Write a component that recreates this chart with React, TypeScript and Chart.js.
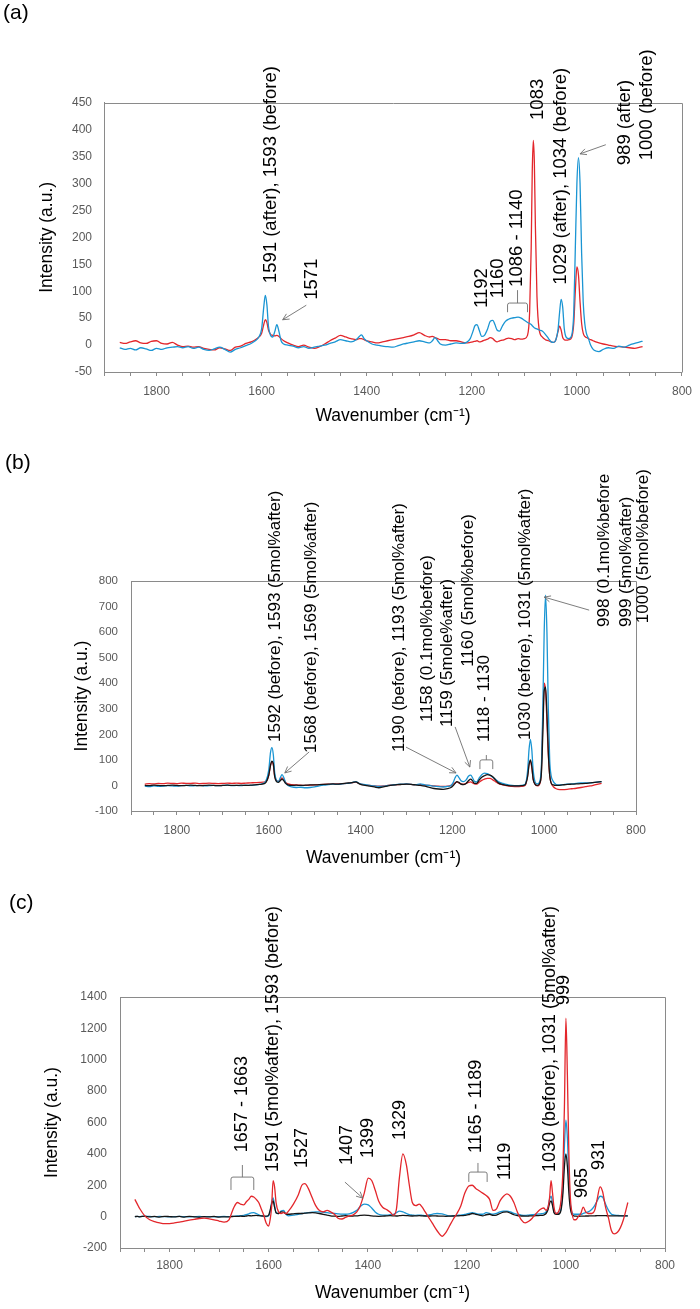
import React, { useEffect, useRef } from "react";
import { Chart, registerables } from "chart.js";
Chart.register(...registerables);

const FONT = "'Liberation Sans', Arial, Helvetica, sans-serif";
const RED = "#e3262b";
const BLUE = "#1a95d3";
const BLACK = "#151515";
const AXIS = "#8a8a8a";
const TICK_TEXT = "#595959";
const NOTE_LINE = "#6e6e6e";

// ---------------- Panel (a) ----------------
const aWave = [
  1870, 1860, 1850, 1840, 1830, 1820, 1810, 1800, 1790, 1780,
  1770, 1760, 1750, 1740, 1730, 1720, 1710, 1700, 1690, 1680,
  1670, 1660, 1650, 1640, 1630, 1620, 1612, 1606, 1600, 1596,
  1593, 1590, 1587, 1583, 1579, 1575, 1571, 1567, 1563, 1558,
  1550, 1540, 1530, 1520, 1510, 1500, 1490, 1480, 1470, 1460,
  1450, 1440, 1430, 1420, 1414, 1410, 1405, 1400, 1390, 1380,
  1370, 1360, 1350, 1340, 1330, 1320, 1310, 1300, 1290, 1280,
  1275, 1270, 1265, 1260, 1250, 1240, 1230, 1220, 1210, 1203,
  1198, 1194, 1190, 1186, 1181, 1176, 1170, 1165, 1160, 1156,
  1152, 1147, 1142, 1136, 1130, 1124, 1118, 1112, 1106, 1100,
  1094, 1090, 1087, 1085, 1083, 1081, 1079, 1076, 1072, 1066,
  1060, 1054, 1049, 1044, 1040, 1036, 1033, 1030, 1027, 1024,
  1020, 1015, 1010, 1006, 1003, 1000, 997, 994, 991, 988,
  985, 982, 978, 974, 969, 964, 958, 950, 940, 930,
  920, 910, 900, 890, 880, 875,
];
const aBefore = [
  5, 3, 6, 8, 4, 3, 7, 8, 3, 2,
  5, 0, -3, -2, -4, -3, -6, -8, -9, -5,
  -7, -10, -4, -2, 3, 6, 10, 14, 22, 38,
  47, 42, 28, 20, 18, 17, 18, 16, 12, 8,
  4, 0, -3, 0, -4, -6, -3, 2, 8, 13,
  18, 15, 12, 10, 12, 12, 10, 8, 6, 4,
  6, 8, 10, 12, 14, 16, 19, 23, 18, 15,
  16, 14, 12, 10, 10, 8, 8, 6, 4, 5,
  6, 7, 8, 6, 7, 9, 11, 14, 12, 8,
  6, 8, 9, 11, 13, 12, 10, 12, 11, 12,
  18, 60, 180, 320, 380, 340, 220, 90, 30, 15,
  10, 8, 6, 5, 10, 25, 35, 28, 14, 10,
  9, 10, 14, 40, 100, 145, 130, 80, 40, 22,
  16, 14, 12, 10, 8, 6, 4, 2, 0, -2,
  -3, -4, -5, -6, -4, -3,
];
const aAfter = [
  -5, -8, -6, -9, -5, -7, -10, -6, -8, -5,
  -4, -3, -5, -3, -6, -4, -8, -10, -7, -4,
  -8, -13, -8, -5, -1, 3, 8, 14, 30, 70,
  92, 75, 35, 18, 15, 25, 38, 25, 8, 2,
  0, -2, -5, -3, -6, -4, -2, 0, 3, 6,
  10, 8, 6, 10, 16, 19, 12, 8, 2, 0,
  -2, -3, -4, -1, 2, 4, 6, 8, 6, 4,
  8, 14, 8, 2, 0, 2, 4, 3, 5, 12,
  25, 36, 38, 28, 16, 18, 30, 44, 46, 38,
  28, 26, 35, 44, 48, 50, 51, 52, 50, 46,
  42, 40, 38, 36, 34, 32, 31, 30, 28, 26,
  20, 12, 6, 5, 10, 28, 60, 85, 70, 30,
  14, 12, 18, 60, 180, 300, 348, 300, 170, 80,
  40, 22, 12, 0, -8, -11, -12, -8, -5, -6,
  -2, -4, 0, 3, 6, 7,
];
const aNotes: [string, number, number][] = [
  ["1591 (after), 1593 (before)", 1582, 115],
  ["1571", 1504, 84],
  ["1192", 1181, 69],
  ["1160", 1151, 87],
  ["1086 - 1140", 1115, 108],
  ["1083", 1074, 418],
  ["1029 (after), 1034 (before)", 1030, 112],
  ["989 (after)", 909, 334],
  ["1000 (before)", 866, 343],
];
const aArrows: [number, number, number, number][] = [
  [1515, 74, 1560, 47],
  [945, 372, 994, 355],
];
const aBrackets: [number, number, number, number, number][] = [
  [1132, 1094, 78, 61, 102],
];

// ---------------- Panel (b) ----------------
const bWave = [
  1870, 1860, 1850, 1840, 1830, 1820, 1810, 1800, 1790, 1780,
  1770, 1760, 1750, 1740, 1730, 1720, 1710, 1700, 1690, 1680,
  1670, 1660, 1650, 1640, 1630, 1620, 1612, 1606, 1600, 1596,
  1593, 1590, 1587, 1583, 1579, 1575, 1571, 1567, 1563, 1558,
  1550, 1540, 1530, 1520, 1510, 1500, 1490, 1480, 1470, 1460,
  1450, 1440, 1430, 1420, 1414, 1410, 1405, 1400, 1390, 1380,
  1370, 1360, 1350, 1340, 1330, 1320, 1310, 1300, 1290, 1280,
  1270, 1260, 1250, 1240, 1230, 1220, 1210, 1203, 1198, 1194,
  1190, 1186, 1181, 1176, 1170, 1165, 1160, 1156, 1152, 1147,
  1142, 1136, 1130, 1124, 1118, 1112, 1106, 1100, 1090, 1080,
  1070, 1060, 1050, 1044, 1040, 1036, 1033, 1030, 1027, 1024,
  1020, 1015, 1010, 1006, 1003, 1000, 997, 994, 991, 988,
  985, 980, 975, 970, 960, 950, 940, 930, 920, 910,
  900, 890, 880, 875,
];
const bAfter5 = [
  -3, -5, -2, -4, -3, -1, -2, -3, -1, 0,
  -2, -1, 0, -2, -1, 0, -1, 0, 1, -1,
  0, -1, 1, 0, 2, 4, 8, 18, 60, 130,
  148, 120, 50, 20, 15, 30, 42, 30, 10, 0,
  -6, -8, -7, -9, -8, -6, -2, 1, 3, 5,
  4, 6, 8, 10, 14, 15, 10, 6, 3, 0,
  -2, -4, -3, 0, 2, 4, 5, 6, 4, 3,
  6, 2, 0, -3, -5, -6, -4, 0, 12, 30,
  40, 32, 18, 15, 22, 36, 40, 30, 16, 14,
  28, 42, 48, 46, 40, 32, 24, 15, 8, 3,
  0, -1, 0, 2, 10, 60, 140, 180, 140, 60,
  15, 6, 15, 80, 300, 600, 745, 600, 300, 100,
  40, 15, 5, 2, 3, 5, 6, 8, 10, 10,
  10, 12, 14, 15,
];
const bBefore5 = [
  5, 7, 6, 8, 7, 9, 8, 7, 9, 8,
  8, 9, 7, 8, 9, 8, 7, 8, 9, 8,
  9, 8, 9, 10, 11, 12, 13, 16, 40, 80,
  92, 80, 35, 18, 16, 22, 30, 22, 12, 6,
  3, 2, 1, 0, 1, 2, 3, 4, 5, 6,
  6, 7, 8, 10, 12, 13, 9, 5, 2, 0,
  -2, -3, -2, 0, 2, 3, 4, 5, 4, 3,
  3, 1, 0, -2, -3, -4, -3, 0, 5, 10,
  14, 10, 6, 5, 8, 12, 14, 10, 6, 5,
  12, 20, 25, 28, 28, 22, 15, 8, 2, -2,
  -4, -5, -4, -2, 5, 40, 85, 95, 70, 25,
  5, -2, 5, 60, 250, 400, 370, 250, 120, 40,
  10, -5, -12, -15, -16, -15, -13, -11, -8, -5,
  -2, 2, 6, 8,
];
const bBefore01 = [
  0, -1, 1, 0, -1, 0, 1, 0, -1, 0,
  1, 0, -1, 0, 1, 0, -1, 0, 1, 0,
  0, 1, 0, 1, 2, 4, 6, 12, 40, 80,
  95, 85, 35, 15, 12, 18, 25, 18, 8, 2,
  0, 1, 0, 1, 2, 2, 3, 4, 5, 6,
  5, 7, 9, 11, 13, 14, 9, 4, 0, -3,
  -6, -9, -6, -2, 1, 3, 4, 5, 4, 2,
  0, -3, -8, -12, -14, -15, -12, -8, 0, 8,
  15, 12, 5, 3, 8, 18, 25, 18, 8, 8,
  20, 32, 38, 42, 40, 34, 22, 10, 3, 0,
  -2, -2, -1, 0, 8, 35, 80, 100, 75, 25,
  5, 0, 8, 50, 200, 370, 385, 280, 130, 40,
  10, 2, 0, 0, 2, 4, 5, 6, 7, 8,
  10, 12, 14, 15,
];
const bNotes: [string, number, number][] = [
  ["1592 (before), 1593 (5mol%after)", 1586, 170],
  ["1568 (before), 1569 (5mol%after)", 1508, 127],
  ["1190 (before), 1193 (5mol%after)", 1316, 131],
  ["1158 (0.1mol%before)", 1255, 248],
  ["1159 (5mole%after)", 1212, 229],
  ["1160 (5mol%before)", 1166, 464],
  ["1118 - 1130", 1131, 170],
  ["1030 (before), 1031 (5mol%after)", 1042, 178],
  ["998 (0.1mol%before", 868, 620],
  ["999 (5mol%after)", 822, 620],
  ["1000 (5mol%before)", 783, 635],
];
const bArrows: [number, number, number, number][] = [
  [1512, 131, 1565, 49],
  [1301, 150, 1192, 49],
  [1194, 229, 1162, 72],
  [902, 686, 1000, 737],
];
const bBrackets: [number, number, number, number, number][] = [
  [1140, 1112, 100, 64, 119],
];

// ---------------- Panel (c) ----------------
const cWave = [
  1870, 1865, 1860, 1850, 1840, 1830, 1820, 1810, 1800, 1790,
  1780, 1770, 1760, 1750, 1740, 1730, 1720, 1710, 1700, 1690,
  1680, 1675, 1670, 1663, 1657, 1650, 1645, 1640, 1635, 1630,
  1625, 1620, 1615, 1610, 1605, 1600, 1597, 1594, 1591, 1588,
  1585, 1580, 1575, 1570, 1565, 1560, 1550, 1540, 1533, 1527,
  1520, 1512, 1505, 1498, 1490, 1482, 1475, 1467, 1460, 1452,
  1445, 1437, 1430, 1422, 1415, 1407, 1399, 1392, 1385, 1378,
  1370, 1362, 1355, 1348, 1342, 1336, 1329, 1322, 1316, 1310,
  1303, 1296, 1290, 1284, 1278, 1270, 1260, 1250, 1242, 1235,
  1228, 1220, 1212, 1204, 1196, 1189, 1182, 1175, 1168, 1161,
  1154, 1147, 1140, 1133, 1126, 1119, 1112, 1105, 1098, 1090,
  1082, 1075, 1068, 1060, 1052, 1045, 1040, 1036, 1033, 1030,
  1027, 1024, 1020, 1015, 1010, 1006, 1003, 1000, 997, 994,
  991, 988, 984, 980, 975, 970, 965, 960, 955, 948,
  942, 937, 931, 926, 920, 914, 908, 902, 896, 890,
  884, 879, 875,
];
const cRed = [
  110, 80, 50, 5, -20, -32, -40, -45, -44, -40,
  -35, -28, -22, -17, -12, -10, -14, -20, -28, -35,
  -20, 20, 60, 90, 80, 75, 95, 110, 130, 125,
  110, 90, 50, 10, -40, -60, -20, 60, 230, 190,
  90, 30, 20, 25, 20, 35, 80, 140, 200, 210,
  180, 120, 70, 40, 30, 40, 30, 15, -10, -15,
  -5, 5, 10, 30, 70, 150, 245, 230, 170, 100,
  60, 45, 30, 10, 50, 250, 400, 330, 200, 90,
  70, 80, 60, 30, 0, -40, -90, -125, -100, -60,
  -20, 20, 70, 150, 195, 200, 180, 165, 150, 135,
  110, 40, 50, 100, 130, 145, 130, 90, 30, -20,
  -40, -30, -10, 20, 45, 55, 40, 60, 120, 230,
  150, 60, 20, 30, 100, 300, 700, 1265, 900, 400,
  120, 30, -20, -20, 0, 20, 60, 30, 20, 20,
  40, 110, 190, 160, 60, -10, -90, -110, -100, -70,
  -20, 40, 90,
];
const cBlue = [
  0, 1, 0, 2, 1, 0, 1, 0, -1, 0,
  1, 0, -1, 0, 1, 0, 0, -1, 0, 1,
  0, 1, 2, 4, 6, 8, 12, 18, 24, 25,
  20, 12, 5, 2, 0, 5, 30, 90, 120, 70,
  25, 20, 35, 40, 15, 5, 10, 15, 20, 22,
  25, 28, 30, 30, 28, 25, 22, 20, 18, 16,
  15, 18, 25, 40, 65, 80, 75, 55, 30, 15,
  10, 10, 12, 15, 25, 35, 30, 20, 12, 10,
  8, 10, 8, 6, 10, 15, 20, 18, 10, 5,
  5, 8, 10, 15, 20, 25, 20, 15, 15, 25,
  20, 15, 20, 30, 35, 35, 30, 20, 15, 10,
  8, 10, 12, 15, 18, 20, 30, 60, 110, 130,
  90, 30, 20, 20, 50, 200, 450, 615, 500, 250,
  80, 30, 15, 15, 15, 15, 20, 25, 30, 45,
  70, 100, 130, 125, 80, 40, 15, 10, 8, 6,
  5, 5, 5,
];
const cBlack = [
  0, 2, -1, 3, -2, 1, -3, 2, 0, -2,
  1, -3, 2, -1, -4, 0, -2, 1, -3, -1,
  -2, 0, 2, 1, 3, 2, 4, 6, 5, 7,
  8, 6, 5, 4, 3, 10, 40, 80, 100, 60,
  25, 20, 30, 28, 18, 15, 18, 20, 20, 22,
  24, 25, 24, 20, 15, 10, 5, 3, 2, 4,
  6, 3, 4, 5, 8, 10, 8, 5, 3, 2,
  3, 5, 6, 5, 4, 6, 8, 7, 5, 4,
  5, 6, 5, 4, 3, 5, 4, 3, 2, 3,
  4, 5, 6, 8, 12, 20, 15, 10, 5, 12,
  15, 8, 10, 20, 28, 30, 22, 12, 6, 4,
  3, 4, 5, 6, 8, 10, 20, 45, 85, 100,
  70, 25, 15, 15, 40, 150, 320, 400, 320, 150,
  50, 15, 5, 3, 2, 3, 3, 4, 4, 5,
  5, 6, 6, 6, 6, 5, 5, 5, 5, 5,
  5, 5, 5,
];
const cNotes: [string, number, number][] = [
  ["1657 - 1663", 1654, 411],
  ["1591 (5mol%after), 1593 (before)", 1591, 284],
  ["1527", 1533, 310],
  ["1407", 1442, 329],
  ["1399", 1400, 374],
  ["1329", 1335, 488],
  ["1165 - 1189", 1182, 405],
  ["1119", 1123, 233],
  ["1030 (before), 1031 (5mol%after)", 1032, 284],
  ["999", 1004, 1349],
  ["965", 968, 119],
  ["931", 933, 297],
];
const cArrows: [number, number, number, number][] = [[1446, 220, 1410, 118]];
const cBrackets: [number, number, number, number, number][] = [
  [1676, 1630, 252, 170, 329],
  [1196, 1159, 284, 221, 342],
];

const xTickLabels = [1800, 1600, 1400, 1200, 1000, 800];

interface Series { values: number[]; color: string; }
interface PanelSpec {
  top: number; height: number;
  wave: number[]; series: Series[];
  yMin: number; yMax: number; yStep: number;
  pad: { top: number; right: number; bottom: number };
  yAxisW: number; xAxisH: number;
  yTickSize: number; yTickPad: number; yTitlePad: number;
  xTickPad: number; xTitlePad: number;
  notes: [string, number, number][];
  arrows: [number, number, number, number][];
  brackets: [number, number, number, number, number][];
  noteSize: number;
}

function decor(spec: PanelSpec) {
  return {
    id: "decor",
    afterDraw(chart: any) {
      const ctx = chart.ctx;
      const xs = chart.scales.x;
      const ys = chart.scales.y;
      const a = chart.chartArea;
      ctx.save();
      ctx.strokeStyle = AXIS;
      ctx.lineWidth = 1;
      ctx.beginPath();
      ctx.moveTo(Math.round(a.left) + 0.5, Math.round(a.top) + 0.5);
      ctx.lineTo(Math.round(a.right) + 0.5, Math.round(a.top) + 0.5);
      ctx.lineTo(Math.round(a.right) + 0.5, Math.round(a.bottom) + 0.5);
      ctx.stroke();

      ctx.strokeStyle = NOTE_LINE;
      ctx.lineWidth = 0.9;
      for (const [x1, y1, x2, y2] of spec.arrows) {
        const px1 = xs.getPixelForValue(x1), py1 = ys.getPixelForValue(y1);
        const px2 = xs.getPixelForValue(x2), py2 = ys.getPixelForValue(y2);
        ctx.beginPath();
        ctx.moveTo(px1, py1);
        ctx.lineTo(px2, py2);
        const ang = Math.atan2(py2 - py1, px2 - px1);
        const L = 7;
        ctx.moveTo(px2, py2);
        ctx.lineTo(px2 - L * Math.cos(ang - 0.45), py2 - L * Math.sin(ang - 0.45));
        ctx.moveTo(px2, py2);
        ctx.lineTo(px2 - L * Math.cos(ang + 0.45), py2 - L * Math.sin(ang + 0.45));
        ctx.stroke();
      }
      for (const [x1, x2, y, legY, tipY] of spec.brackets) {
        const p1 = xs.getPixelForValue(x1), p2 = xs.getPixelForValue(x2);
        const py = ys.getPixelForValue(y), pl = ys.getPixelForValue(legY), pt = ys.getPixelForValue(tipY);
        const mid = (p1 + p2) / 2;
        ctx.beginPath();
        ctx.moveTo(p1, pl);
        ctx.lineTo(p1, py + 2);
        ctx.quadraticCurveTo(p1, py, p1 + 2, py);
        ctx.lineTo(p2 - 2, py);
        ctx.quadraticCurveTo(p2, py, p2, py + 2);
        ctx.lineTo(p2, pl);
        ctx.moveTo(mid, py);
        ctx.lineTo(mid, pt);
        ctx.stroke();
      }

      ctx.fillStyle = "#000";
      ctx.font = `${spec.noteSize}px ${FONT}`;
      ctx.textAlign = "left";
      ctx.textBaseline = "middle";
      for (const [text, x, y] of spec.notes) {
        const px = xs.getPixelForValue(x), py = ys.getPixelForValue(y);
        ctx.save();
        ctx.translate(px, py);
        ctx.rotate(-Math.PI / 2);
        ctx.fillText(text, 0, 0);
        ctx.restore();
      }
      ctx.restore();
    },
  };
}

function buildConfig(spec: PanelSpec): any {
  return {
    type: "line",
    data: {
      datasets: spec.series.map((s) => ({
        data: spec.wave.map((w, i) => ({ x: w, y: s.values[i] })),
        borderColor: s.color,
        borderWidth: 1.3,
        pointRadius: 0,
        fill: false,
        cubicInterpolationMode: "monotone",
      })),
    },
    options: {
      animation: false,
      responsive: false,
      maintainAspectRatio: false,
      devicePixelRatio: 1,
      layout: { padding: { left: 0, right: spec.pad.right, top: spec.pad.top, bottom: spec.pad.bottom } },
      plugins: { legend: { display: false }, tooltip: { enabled: false } },
      scales: {
        x: {
          type: "linear",
          reverse: true,
          min: 800,
          max: 1900,
          ticks: {
            stepSize: 50,
            autoSkip: false,
            maxRotation: 0,
            padding: spec.xTickPad,
            color: TICK_TEXT,
            font: { family: FONT, size: 12 },
            callback: (v: number) => (xTickLabels.includes(v) ? String(v) : ""),
          },
          grid: { drawOnChartArea: false, drawTicks: true, tickLength: 4, color: AXIS },
          border: { display: true, color: AXIS },
          title: {
            display: true,
            text: "Wavenumber (cm⁻¹)",
            color: "#000",
            font: { family: FONT, size: 17.5 },
            padding: { top: 0, bottom: spec.xTitlePad },
          },
          afterFit: (s: any) => { s.height = spec.xAxisH; },
        },
        y: {
          min: spec.yMin,
          max: spec.yMax,
          ticks: {
            stepSize: spec.yStep,
            padding: spec.yTickPad,
            color: TICK_TEXT,
            font: { family: FONT, size: spec.yTickSize },
            callback: (v: number) => String(v),
          },
          grid: { drawOnChartArea: false, drawTicks: false },
          border: { display: true, color: AXIS },
          title: {
            display: true,
            text: "Intensity (a.u.)",
            color: "#000",
            font: { family: FONT, size: 17.5 },
            padding: { top: spec.yTitlePad, bottom: 0 },
          },
          afterFit: (s: any) => { s.width = spec.yAxisW; },
        },
      },
    },
    plugins: [decor(spec)],
  };
}

const panels: PanelSpec[] = [
  {
    top: 0, height: 440, wave: aWave,
    series: [ { values: aAfter, color: BLUE }, { values: aBefore, color: RED } ],
    yMin: -50, yMax: 450, yStep: 50,
    pad: { top: 102.7, right: 11, bottom: 8 },
    yAxisW: 104, xAxisH: 60, yTickSize: 12, yTickPad: 12, yTitlePad: 37,
    xTickPad: 8, xTitlePad: 5.5,
    notes: aNotes, arrows: aArrows, brackets: aBrackets, noteSize: 18.5,
  },
  {
    top: 440, height: 440, wave: bWave,
    series: [ { values: bBefore01, color: BLACK }, { values: bAfter5, color: BLUE }, { values: bBefore5, color: RED } ],
    yMin: -100, yMax: 800, yStep: 100,
    pad: { top: 141, right: 64, bottom: 9 },
    yAxisW: 131, xAxisH: 60, yTickSize: 11.5, yTickPad: 13, yTitlePad: 72,
    xTickPad: 8, xTitlePad: 2.5,
    notes: bNotes, arrows: bArrows, brackets: bBrackets, noteSize: 17,
  },
  {
    top: 880, height: 429, wave: cWave,
    series: [ { values: cRed, color: RED }, { values: cBlack, color: BLACK }, { values: cBlue, color: BLUE } ],
    yMin: -200, yMax: 1400, yStep: 200,
    pad: { top: 117, right: 35, bottom: 5 },
    yAxisW: 120, xAxisH: 56, yTickSize: 12, yTickPad: 13, yTitlePad: 42,
    xTickPad: 6, xTitlePad: 0.5,
    notes: cNotes, arrows: cArrows, brackets: cBrackets, noteSize: 18,
  },
];

function Panel({ spec }: { spec: PanelSpec }) {
  const ref = useRef<HTMLCanvasElement>(null);
  useEffect(() => {
    const chart = new Chart(ref.current as HTMLCanvasElement, buildConfig(spec));
    return () => chart.destroy();
  }, [spec]);
  return (
    <canvas
      ref={ref}
      width={700}
      height={spec.height}
      style={{ position: "absolute", left: 0, top: spec.top, width: 700, height: spec.height }}
    />
  );
}

const panelLetters: [string, number, number][] = [
  ["(a)", 3, 0],
  ["(b)", 5, 450],
  ["(c)", 9, 890],
];

export default function App() {
  return (
    <div style={{ position: "absolute", left: 0, top: 0, width: 700, height: 1309, background: "#fff", overflow: "hidden" }}>
      {panels.map((p, i) => (
        <Panel key={i} spec={p} />
      ))}
      {panelLetters.map(([t, l, tp]) => (
        <div
          key={t}
          style={{ position: "absolute", left: l, top: tp, fontFamily: FONT, fontSize: 21, lineHeight: "24px", color: "#000" }}
        >
          {t}
        </div>
      ))}
    </div>
  );
}
